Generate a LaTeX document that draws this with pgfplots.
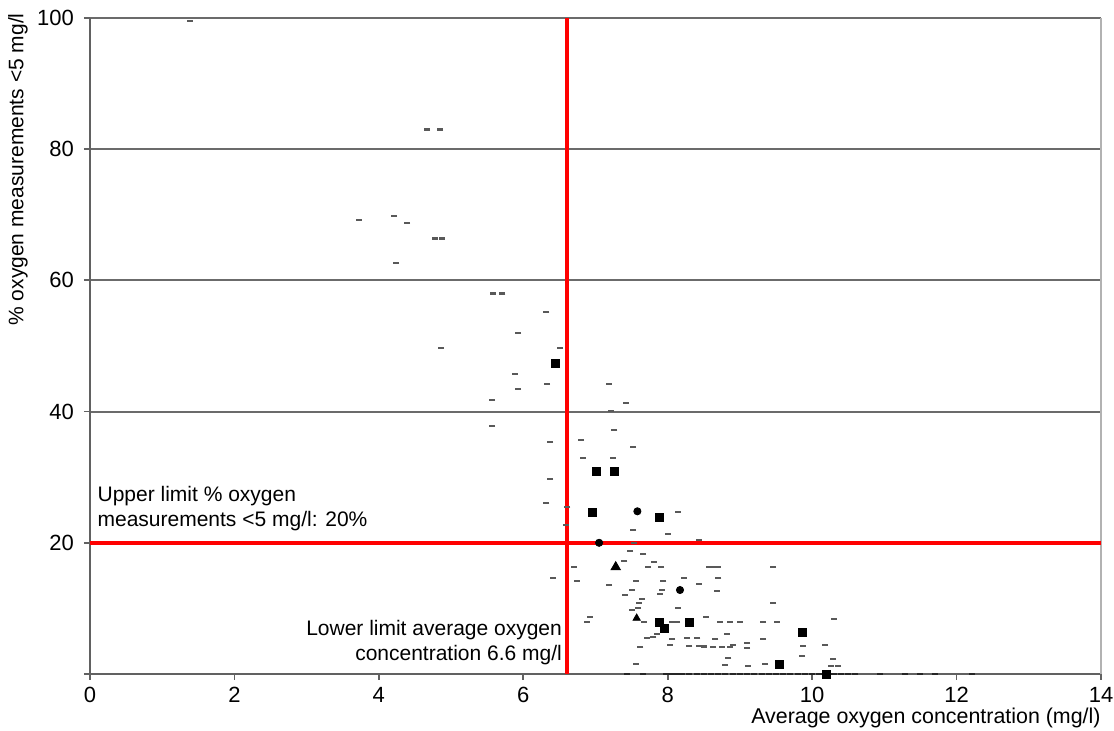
\documentclass[border=0pt]{standalone}
\usepackage{fontspec}
\setmainfont{Liberation Sans}
\usepackage{pgfplots}
\pgfplotsset{compat=1.18}

\begin{document}
\begin{tikzpicture}[font=\fontsize{10.5}{12.5}\selectfont]
\path[use as bounding box] (-45pt,-28.5pt) rectangle (512pt,337pt);
\begin{axis}[
  at={(0,0)}, anchor=south west,
  width=505.5pt, height=328pt, scale only axis,
  xmin=0, xmax=14, ymin=0, ymax=100,
  axis x line*=bottom, axis y line*=left,
  axis line style={black!62, line width=1.1pt},
  xtick={0,2,...,14}, ytick={0,20,...,100},
  yticklabels={,20,40,60,80,100},
  /pgf/number format/assume math mode=true,
  tick label style={font=\fontsize{11}{13}\selectfont},
  yticklabel style={xshift=-1.5pt},
  tick align=outside, major tick length=3pt,
  tick style={black!62, line width=0.9pt},
  ymajorgrids, grid style={black!58, line width=1pt},
  clip=false,
]
% right spine
\addplot[black!30, line width=1pt] coordinates {(14,0) (14,100)};
% limit lines
\addplot[red, line width=2pt] coordinates {(6.6,0) (6.6,100)};
\addplot[red, line width=2pt] coordinates {(0,20) (14,20)};

% small dash markers
\addplot[only marks, mark=-, mark size=1.5pt, mark options={line width=1.1pt, draw=black!65}] coordinates {
(1.38,99.6) (4.67,83.0) (4.85,83.0) (3.72,69.2) (4.21,69.8) (4.39,68.7)
(4.78,66.4) (4.87,66.4) (4.24,62.6) (5.58,58.0) (5.71,58.0) (6.32,55.2)
(5.93,52.0) (4.86,49.7) (6.51,49.7) (5.88,45.7) (6.33,44.2) (5.93,43.4)
(5.57,41.8) (5.57,37.8) (7.18,44.2) (7.42,41.3) (7.21,40.1) (7.26,37.2)
(6.37,35.4) (6.80,35.7) (7.52,34.6) (6.82,32.9) (7.24,32.9) (6.37,29.7)
(6.32,26.1) (6.61,25.5) (8.14,24.7) (6.59,22.7) (7.52,21.9) (8.00,21.3)
(8.43,20.4) (7.53,20.0) (7.48,18.7) (7.66,18.3) (7.40,17.2) (7.81,17.1)
(6.70,16.3) (7.73,16.3) (7.91,16.3) (8.57,16.3) (8.63,16.3) (8.69,16.3)
(9.46,16.3) (6.41,14.6) (6.74,14.2) (7.19,13.6) (7.56,14.2) (7.94,14.2)
(8.22,14.6) (8.70,14.6) (8.43,13.7) (7.50,12.8) (7.41,12.0) (7.92,12.8)
(7.89,12.2) (8.68,12.6) (7.64,11.4) (7.60,10.8) (8.14,10.1) (7.59,10.1) (7.50,9.8)
(9.46,10.8) (6.92,8.7) (6.88,7.9) (7.67,7.9) (8.06,7.9) (8.13,7.9)
(8.53,8.7) (8.72,7.9) (8.86,7.9) (9.00,7.9) (9.32,7.9) (9.51,7.9)
(10.30,8.4) (9.87,4.3) (10.18,4.4) (9.86,2.7) (10.29,2.3) (10.26,1.2)
(10.36,1.2) (9.35,1.5) (9.11,1.2) (8.79,1.4) (8.84,2.4) (7.56,1.5)
(7.62,4.1) (8.03,4.4) (7.71,5.5) (7.80,5.6) (7.85,6.1) (8.06,5.3) (8.27,5.5) (8.41,5.5)
(8.66,5.3) (8.30,4.3) (8.43,4.3) (8.50,4.2) (8.63,4.1) (8.75,4.1)
(8.86,4.1) (8.82,6.1) (8.90,4.4) (9.10,4.7) (9.10,4.0) (9.32,5.3)
};
% points lying on the x axis (0 %)
\addplot[only marks, mark=-, mark size=1.5pt, mark options={line width=1.3pt, draw=black!85}] coordinates {
(7.43,0) (7.66,0) (7.98,0) (8.05,0) (8.12,0) (8.20,0) (8.30,0) (8.40,0)
(8.50,0) (8.60,0) (8.70,0) (8.80,0) (8.90,0) (9.00,0) (9.10,0) (9.20,0)
(9.30,0) (9.40,0) (9.50,0) (9.60,0) (9.70,0) (9.80,0) (9.90,0) (10.00,0)
(10.10,0) (10.30,0) (10.40,0) (10.50,0) (10.60,0) (10.94,0) (11.29,0)
(11.49,0) (11.70,0) (12.21,0)
};
% squares
\addplot[only marks, mark=square*, mark size=2pt, mark options={fill=black, draw=black}] coordinates {
(6.45,47.4) (7.01,30.9) (7.26,30.9) (6.96,24.7) (7.88,23.9) (7.88,7.9)
(8.30,7.9) (7.96,7.0) (9.86,6.3) (9.54,1.4) (10.20,0)
};
% circles
\addplot[only marks, mark=*, mark size=1.8pt, mark options={fill=black, draw=black}] coordinates {
(7.58,24.8) (7.05,20.0) (8.17,12.8)
};
% triangles
\addplot[only marks, mark=triangle*, mark size=2.7pt, mark options={fill=black, draw=black}] coordinates {
(7.28,16.3)
};
\addplot[only marks, mark=triangle*, mark size=2.1pt, mark options={fill=black, draw=black}] coordinates {
(7.57,8.5)
};

% annotations
\node[anchor=west, inner sep=0pt] at (axis cs:0.1,27.1) {Upper limit \% oxygen};
\node[anchor=west, inner sep=0pt] at (axis cs:0.1,23.3) {measurements <5 mg/l: 20\%};
\node[anchor=east, inner sep=0pt] at (axis cs:6.54,6.7) {Lower limit average oxygen};
\node[anchor=east, inner sep=0pt] at (axis cs:6.54,2.9) {concentration 6.6 mg/l};

% axis labels
\node[rotate=90, anchor=east, inner sep=0pt] at ([shift={(-36pt,2.5pt)}]rel axis cs:0,1) {\% oxygen measurements <5 mg/l};
\node[anchor=east, inner sep=0pt, font=\fontsize{10.7}{12.5}\selectfont] at ([shift={(0pt,-22pt)}]rel axis cs:1,0) {Average oxygen concentration (mg/l)};
\end{axis}
\end{tikzpicture}
\end{document}
